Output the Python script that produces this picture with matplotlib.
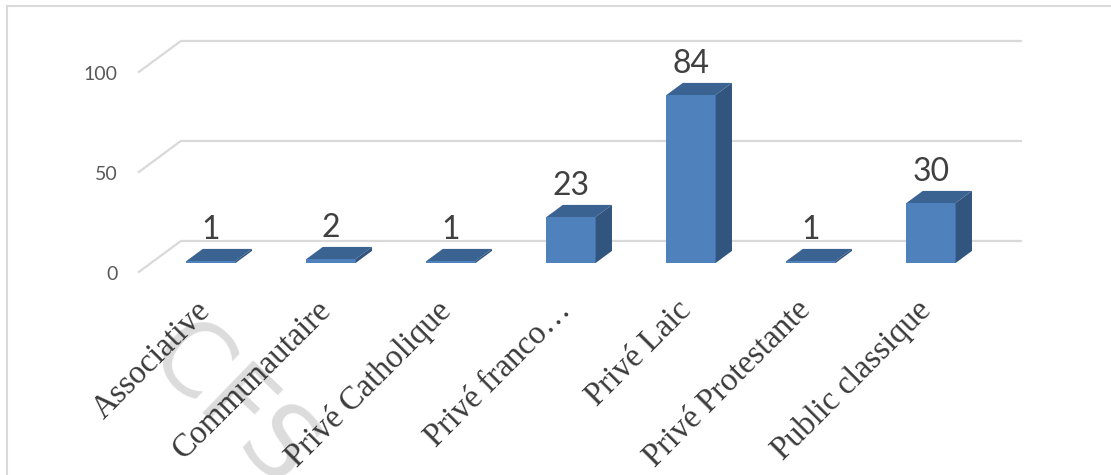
import matplotlib.pyplot as plt
from matplotlib.patches import Polygon
from matplotlib.lines import Line2D

categories = ['Associative', 'Communautaire', 'Privé Catholique', 'Privé franco…',
              'Privé Laic', 'Privé Protestante', 'Public classique']
values = [1, 2, 1, 23, 84, 1, 30]
yticks = [0, 50, 100]

W, H = 1111, 475
fig = plt.figure(figsize=(W / 100, H / 100), dpi=100)
ax = fig.add_axes([0, 0, 1, 1])
ax.set_xlim(-211 / 120, (W - 211) / 120)
ax.set_ylim((263 - H) / 2, 263 / 2)
ax.axis('off')

# fake 3D: depth vector in data units, bars sit between d0 and d1
DX, DY = 0.35, 15.5
d0, d1 = 0.29, 0.68


def off(x, y, d):
    return (x + DX * (d - d0), y + DY * (d - d0))


grid_c = '#d9d9d9'
x_left, x_right = -0.5, len(categories) - 0.5
for v in yticks:
    p0, p1 = off(x_left, v, 0), off(x_left, v, 1)
    p2 = off(x_right, v, 1)
    ax.plot([p0[0], p1[0], p2[0]], [p0[1], p1[1], p2[1]], color=grid_c, lw=1.6, zorder=1)
    ax.text(p0[0] - 0.175, p0[1] - 1.2, str(v), ha='right', va='center',
            fontsize=14, color='#595959', family='Lato')

front_c, top_c, side_c = '#4f81bd', '#3b6392', '#32557f'
w = 0.41
xs = list(range(len(categories)))
ax.bar(xs, values, width=w, color=front_c, zorder=3)
for x, v in zip(xs, values):
    xl, xr = x - w / 2, x + w / 2
    top = [(xl, v), (xr, v), off(xr, v, d1), off(xl, v, d1)]
    side = [(xr, 0), (xr, v), off(xr, v, d1), off(xr, 0, d1)]
    ax.add_patch(Polygon(top, closed=True, color=top_c, lw=0, zorder=3))
    ax.add_patch(Polygon(side, closed=True, color=side_c, lw=0, zorder=3))
    ax.text(x, v + DY * (d1 - d0) + 5, str(v), ha='center', va='baseline',
            fontsize=23, color='#404040', family='Lato', zorder=4)

for x, c in zip(xs, categories):
    ax.text(x - 0.13, -16, c, rotation=45, rotation_mode='anchor', ha='right', va='top',
            fontsize=23.5, color='#3a3a3a', family='Liberation Serif', zorder=4)

# faint watermark
ax.text(0.16, -72, 'CFS', rotation=-44, ha='center', va='center', fontsize=72,
        color='#dcdcdc', family='DejaVu Sans', zorder=0)

fig.add_artist(Line2D([7 / W, 7 / W], [0, 1 - 6 / H], color=grid_c, lw=1.5, transform=fig.transFigure))
fig.add_artist(Line2D([7 / W, 1], [1 - 6 / H, 1 - 6 / H], color=grid_c, lw=1.5, transform=fig.transFigure))

fig.savefig('out.png', dpi=100)
